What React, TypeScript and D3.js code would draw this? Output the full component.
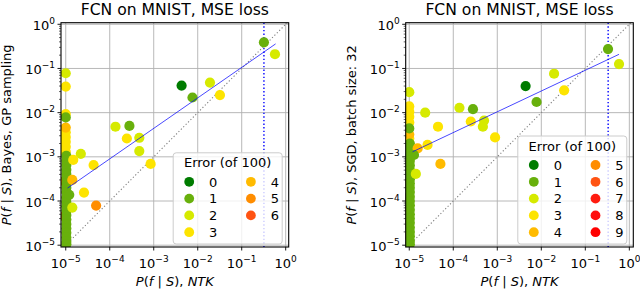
import React from 'react';
import * as d3 from 'd3';

// colours for the number of test errors (of 100)
const errorColors = ['#007c00', '#68b00c', '#d6ea00', '#fde400', '#ffbb00', '#ff8d00', '#ff5312', '#ff1c10', '#ff0e0e', '#ff0000'];

// ---- left panel: Bayes (GP sampling) vs NTK ----
const bayesNtk = [
  9.2e-6, 9.2e-6,
  1.0e-5, 1.0e-5, 1.0e-5, 1.0e-5, 1.0e-5, 1.0e-5, 1.0e-5, 1.0e-5, 1.0e-5, 1.0e-5,
  1.03e-5, 1.03e-5, 1.03e-5, 1.03e-5, 1.03e-5, 1.03e-5, 1.03e-5, 1.03e-5, 1.03e-5, 1.03e-5, 1.03e-5,
  1.03e-5, 1.03e-5, 1.03e-5, 1.03e-5, 1.03e-5, 1.03e-5, 1.03e-5, 1.03e-5, 1.03e-5, 1.03e-5,
  0.32, 0.57, 0.0043, 0.019, 0.0076, 0.032, 1.35e-4, 2.8e-4, 2.45e-4, 4.7e-4,
  4.7e-4, 8.5e-4, 2.2e-5, 1.48e-5, 4.3e-5, 1.41e-5, 1.2e-5, 2.6e-5, 4.9e-5, 1.41e-5,
];
const bayesProb = [
  2.8e-4, 4.5e-5,
  0.078, 0.039, 9.3e-3, 3.6e-3, 2.8e-3, 2.2e-3, 1.7e-3, 1.3e-3, 4.6e-3, 7.8e-3,
  1.05e-3, 8.2e-4, 6.5e-4, 5.1e-4, 4.1e-4, 3.3e-4, 2.5e-4, 2.0e-4, 1.6e-4, 1.2e-4, 9.5e-5,
  7.6e-5, 6.0e-5, 4.8e-5, 3.8e-5, 3.0e-5, 2.4e-5, 1.9e-5, 1.5e-5, 1.2e-5, 1.05e-5,
  0.39, 0.21, 0.041, 0.048, 0.022, 0.025, 4.8e-3, 5.0e-3, 2.6e-3, 2.7e-3,
  1.35e-3, 6.9e-4, 1.17e-3, 8.5e-4, 6.5e-4, 3.0e-4, 1.38e-4, 1.55e-4, 7.9e-5, 7.1e-5,
];
const bayesErr = [
  5, 6,
  2, 3, 3, 3, 3, 3, 3, 3, 4, 1,
  1, 1, 1, 1, 1, 1, 1, 1, 1, 1, 1,
  1, 1, 1, 1, 1, 1, 1, 1, 1, 1,
  1, 2, 0, 2, 1, 3, 2, 1, 3, 2,
  2, 3, 2, 3, 3, 4, 1, 3, 5, 2,
];
const bayesFitX = [1.1e-5, 0.59];
const bayesFitY = [1.96e-4, 0.36];
const bayesMark = 0.32;

// ---- right panel: SGD (batch 32) vs NTK ----
const sgdNtk = [
  9.3e-6, 9.3e-6, 9.3e-6, 9.3e-6, 9.3e-6,
  1.0e-5, 1.0e-5, 1.0e-5, 1.0e-5, 1.0e-5, 1.0e-5, 1.0e-5, 1.0e-5,
  1.03e-5, 1.03e-5, 1.03e-5, 1.03e-5, 1.03e-5, 1.03e-5, 1.03e-5, 1.03e-5, 1.03e-5, 1.03e-5, 1.03e-5, 1.03e-5,
  1.03e-5, 1.03e-5, 1.03e-5, 1.03e-5, 1.03e-5, 1.03e-5, 1.03e-5, 1.03e-5, 1.03e-5, 1.03e-5, 1.03e-5, 1.03e-5,
  0.328, 0.583, 0.0195, 0.0044, 0.033, 0.0078, 2.3e-5, 1.38e-4, 2.8e-4, 2.5e-4,
  5.0e-4, 4.7e-4, 4.5e-5, 8.9e-4, 1.55e-5, 2.6e-5, 5.1e-5, 1.41e-5, 1.28e-5,
];
const sgdProb = [
  2.5e-4, 1.2e-4, 6.0e-5, 3.0e-5, 1.7e-5,
  0.029, 0.0138, 0.0105, 8.1e-3, 6.0e-3, 2.6e-3, 3.2e-3, 4.4e-3,
  2.0e-3, 1.6e-3, 1.25e-3, 1.0e-3, 8.1e-4, 6.4e-4, 5.0e-4, 4.0e-4, 3.1e-4, 2.5e-4, 2.0e-4, 1.6e-4,
  1.25e-4, 1.0e-4, 8.0e-5, 6.3e-5, 5.0e-5, 4.0e-5, 3.2e-5, 2.5e-5, 2.0e-5, 1.6e-5, 1.25e-5, 1.05e-5,
  0.275, 0.126, 0.076, 0.040, 0.032, 0.0174, 0.010, 0.0129, 0.012, 6.3e-3,
  6.6e-3, 4.8e-3, 4.8e-3, 2.75e-3, 1.55e-3, 1.86e-3, 6.9e-4, 4.1e-4, 1.1e-3,
];
const sgdErr = [
  5, 6, 9, 7, 8,
  2, 3, 3, 3, 3, 3, 4, 1,
  1, 1, 1, 1, 1, 1, 1, 1, 1, 1, 1, 1,
  1, 1, 1, 1, 1, 1, 1, 1, 1, 1, 1, 1,
  1, 2, 2, 0, 3, 1, 2, 2, 1, 3,
  2, 2, 3, 3, 4, 3, 4, 2, 1,
];
const sgdFitX = [1.19e-5, 0.583];
const sgdFitY = [1.3e-3, 0.209];
const sgdMark = 0.33;

const decades = [-5, -4, -3, -2, -1, 0];
const font = '"DejaVu Sans", sans-serif';
const FS = 13;

const Pfs = () => (
  <>
    <tspan fontStyle="italic">P</tspan>(<tspan fontStyle="italic">f</tspan> | <tspan fontStyle="italic">S</tspan>)
  </>
);

const Pow = ({ e }: { e: number }) => (
  <>
    10<tspan dy={-6} fontSize={9}>{e === 0 ? '0' : `\u2212${-e}`}</tspan>
  </>
);

interface PanelProps {
  left: number;
  right: number;
  xDomain: [number, number];
  xs: number[];
  ys: number[];
  errs: number[];
  fitX: number[];
  fitY: number[];
  mark: number;
  nLegend: number;
  yLabel: string;
  yLabelX: number;
}

const top = 22.7;
const bottom = 247;

const Panel: React.FC<PanelProps> = ({ left, right, xDomain, xs, ys, errs, fitX, fitY, mark, nLegend, yLabel, yLabelX }) => {
  const x = d3.scaleLog().domain(xDomain).range([left, right]);
  const y = d3.scaleLog().domain([9.1e-6, 1.086]).range([bottom, top]);
  const cx = (left + right) / 2;
  const cy = (top + bottom) / 2;

  const minor: number[] = [];
  for (let k = -6; k <= 0; k++) for (let m = 2; m <= 9; m++) {
    const v = m * Math.pow(10, k);
    if (v >= 9.1e-6 && v <= 1.086) minor.push(v);
  }

  const fit = d3.line<number>().x((_, i) => x(fitX[i])).y((_, i) => y(fitY[i]));
  const diagLo = 1e-5;
  const diagHi = Math.min(xDomain[1], 1.086);

  // legend layout
  const rows = Math.ceil(nLegend / 2);
  const lgW = 109;
  const lgH = 24 + rows * 16.8;
  const lgX = right - 6.5 - lgW;
  const lgY = bottom - 3 - lgH;
  const legendItems = d3.range(nLegend).map(i => ({
    i,
    col: i < rows ? 0 : 1,
    row: i < rows ? i : i - rows,
  }));

  return (
    <g fontFamily={font}>
      <clipPath id={`clip${left}`}>
        <rect x={left} y={top} width={right - left} height={bottom - top} />
      </clipPath>
      {/* grid */}
      {decades.map(d => (
        <g key={d} stroke="#b0b0b0" strokeWidth={0.9}>
          <line x1={x(Math.pow(10, d))} x2={x(Math.pow(10, d))} y1={top} y2={bottom} />
          <line x1={left} x2={right} y1={y(Math.pow(10, d))} y2={y(Math.pow(10, d))} />
        </g>
      ))}
      <g clipPath={`url(#clip${left})`}>
        <line x1={x(diagLo)} y1={y(diagLo)} x2={x(diagHi)} y2={y(diagHi)}
          stroke="#808080" strokeWidth={1.1} strokeDasharray="1.2,2.2" />
        <line x1={x(mark)} x2={x(mark)} y1={top} y2={bottom}
          stroke="#0000ff" strokeWidth={1.4} strokeDasharray="1.4,2.2" />
        {xs.map((v, i) => (
          <circle key={i} cx={x(v)} cy={y(ys[i])} r={5.1} fill={errorColors[errs[i]]} />
        ))}
        <path d={fit(fitX) || ''} fill="none" stroke="#0000ff" strokeWidth={0.9} strokeOpacity={0.8} />
      </g>
      {/* legend */}
      <rect x={lgX} y={lgY} width={lgW} height={lgH} rx={3} fill="white" fillOpacity={0.8} stroke="#cccccc" strokeWidth={1} />
      <text x={lgX + lgW / 2} y={lgY + 14.5} fontSize={FS} textAnchor="middle">Error (of 100)</text>
      {legendItems.map(({ i, col, row }) => (
        <g key={i}>
          <circle cx={lgX + 16 + col * 61.7} cy={lgY + 29 + row * 16.8} r={4.9} fill={errorColors[i]} />
          <text x={lgX + 40 + col * 61.7} y={lgY + 29 + row * 16.8 + 4.7} fontSize={FS} textAnchor="middle">{i}</text>
        </g>
      ))}
      {/* frame */}
      <rect x={left} y={top} width={right - left} height={bottom - top} fill="none" stroke="black" strokeWidth={1.1} />
      {/* y ticks */}
      {minor.map(v => (
        <line key={v} x1={left - 2} x2={left} y1={y(v)} y2={y(v)} stroke="black" strokeWidth={0.6} />
      ))}
      {decades.map(d => (
        <g key={d}>
          <line x1={left - 3.5} x2={left} y1={y(Math.pow(10, d))} y2={y(Math.pow(10, d))} stroke="black" strokeWidth={0.9} />
          <text x={left - 6} y={y(Math.pow(10, d)) + 5.5} fontSize={FS} textAnchor="end"><Pow e={d} /></text>
          <line x1={x(Math.pow(10, d))} x2={x(Math.pow(10, d))} y1={bottom} y2={bottom + 3.5} stroke="black" strokeWidth={0.9} />
          <text x={x(Math.pow(10, d))} y={268} fontSize={FS} textAnchor="middle"><Pow e={d} /></text>
        </g>
      ))}
      {/* labels */}
      <text x={cx} y={15} fontSize={15.6} textAnchor="middle">FCN on MNIST, MSE loss</text>
      <text x={cx} y={286} fontSize={FS} textAnchor="middle">
        <Pfs />, <tspan fontStyle="italic">NTK</tspan>
      </text>
      <text transform={`translate(${yLabelX},${cy}) rotate(-90)`} fontSize={FS} textAnchor="middle">
        <Pfs />, {yLabel}
      </text>
    </g>
  );
};

export default function App() {
  return (
    <svg width={640} height={292} style={{ position: 'absolute', left: 0, top: 0, background: 'white' }}>
      <Panel left={61} right={288.7} xDomain={[7.8e-6, 1.17]} xs={bayesNtk} ys={bayesProb} errs={bayesErr}
        fitX={bayesFitX} fitY={bayesFitY} mark={bayesMark} nLegend={7} yLabel="Bayes, GP sampling" yLabelX={11} />
      <Panel left={405.7} right={633.3} xDomain={[8.3e-6, 1.23]} xs={sgdNtk} ys={sgdProb} errs={sgdErr}
        fitX={sgdFitX} fitY={sgdFitY} mark={sgdMark} nLegend={10} yLabel="SGD, batch size: 32" yLabelX={356} />
    </svg>
  );
}
